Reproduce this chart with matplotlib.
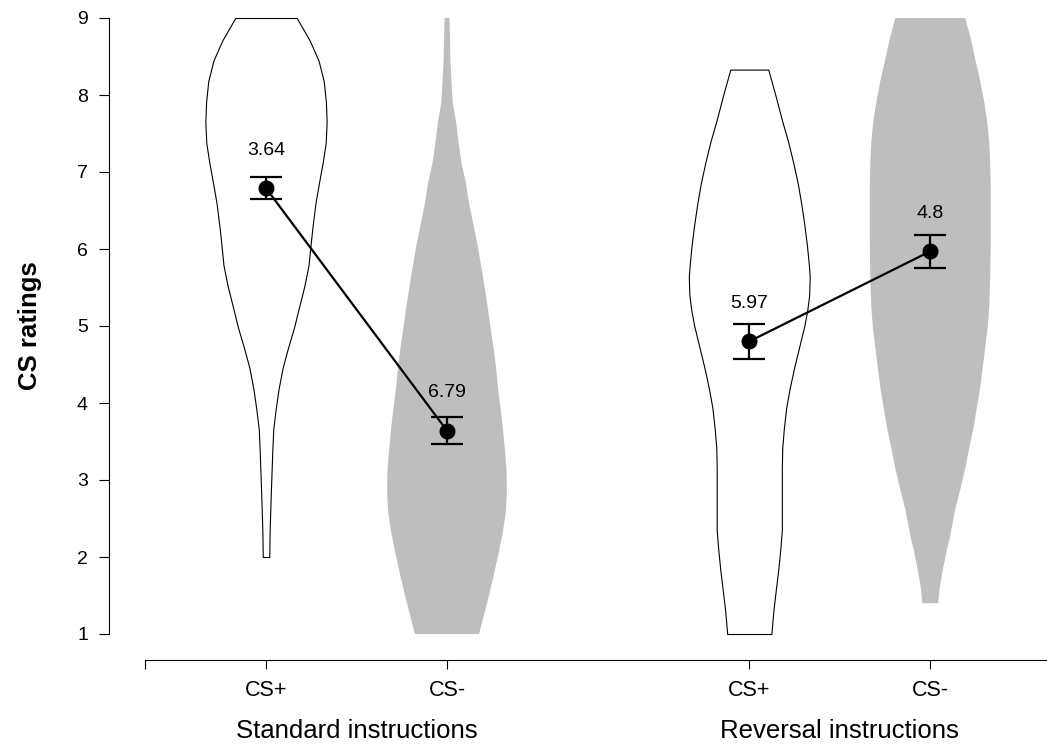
import numpy as np
import matplotlib
matplotlib.use("Agg")
import matplotlib.pyplot as plt
from matplotlib.transforms import blended_transform_factory

plt.rcParams['font.family'] = ['Liberation Sans', 'DejaVu Sans']

# group / condition layout
positions = [1, 2, 3.67, 4.67]
tick_labels = ['CS+', 'CS-', 'CS+', 'CS-']
group_names = ['Standard instructions', 'Reversal instructions']

# means, standard errors and the printed labels (as in the original figure)
means = [6.79, 3.64, 4.80, 5.97]
sems = [0.145, 0.175, 0.23, 0.217]
mean_labels = ['3.64', '6.79', '5.97', '4.8']

# violin outlines: rating level -> half width (x units)
std_plus_y = [9.0, 8.71, 8.45, 8.18, 7.91, 7.65, 7.38, 7.12, 6.85, 6.59, 6.27, 6.05, 5.79,
              5.52, 5.26, 4.99, 4.72, 4.46, 4.19, 3.93, 3.66, 3.39, 2.86, 2.33, 2.0]
std_plus_w = [0.170, 0.241, 0.290, 0.319, 0.331, 0.335, 0.330, 0.313, 0.292, 0.273, 0.256,
              0.246, 0.235, 0.212, 0.184, 0.156, 0.122, 0.092, 0.070, 0.054, 0.040, 0.035,
              0.027, 0.020, 0.018]

std_minus_y = [9.0, 8.7, 8.45, 8.18, 7.91, 7.65, 7.38, 7.12, 6.85, 6.59, 6.32, 6.05, 5.79,
               5.52, 5.26, 4.99, 4.72, 4.46, 4.19, 3.93, 3.66, 3.39, 3.13, 2.86, 2.6, 2.33,
               2.07, 1.8, 1.53, 1.27, 1.0]
std_minus_w = [0.013, 0.017, 0.019, 0.025, 0.031, 0.050, 0.064, 0.080, 0.105, 0.122, 0.146,
               0.169, 0.188, 0.207, 0.224, 0.240, 0.257, 0.271, 0.282, 0.296, 0.309, 0.320,
               0.329, 0.331, 0.326, 0.309, 0.287, 0.262, 0.235, 0.207, 0.177]

rev_plus_y = [8.33, 8.0, 7.66, 7.39, 7.12, 6.85, 6.59, 6.32, 6.06, 5.8, 5.64, 5.4, 5.2, 5.0,
              4.73, 4.47, 4.2, 3.94, 3.67, 3.41, 3.15, 2.88, 2.62, 2.35, 2.09, 1.83, 1.56,
              1.3, 1.0]
rev_plus_w = [0.105, 0.144, 0.182, 0.215, 0.243, 0.268, 0.287, 0.304, 0.318, 0.329, 0.334,
              0.331, 0.320, 0.304, 0.276, 0.249, 0.224, 0.204, 0.191, 0.182, 0.180, 0.180,
              0.180, 0.180, 0.171, 0.160, 0.146, 0.133, 0.122]

rev_minus_y = [9.0, 8.7, 8.44, 8.18, 7.91, 7.65, 7.38, 7.12, 6.85, 6.5, 6.06, 5.6, 5.26, 5.0,
               4.73, 4.46, 4.2, 3.93, 3.67, 3.41, 3.15, 2.88, 2.62, 2.35, 2.22, 2.09, 1.83,
               1.6, 1.4]
rev_minus_w = [0.193, 0.227, 0.251, 0.276, 0.298, 0.315, 0.326, 0.331, 0.334, 0.334, 0.334,
               0.331, 0.326, 0.318, 0.304, 0.290, 0.276, 0.257, 0.238, 0.215, 0.193, 0.166,
               0.138, 0.116, 0.105, 0.091, 0.069, 0.052, 0.044]

violins = [(std_plus_y, std_plus_w), (std_minus_y, std_minus_w),
           (rev_plus_y, rev_plus_w), (rev_minus_y, rev_minus_w)]
fills = ['white', '#bebebe', 'white', '#bebebe']
edges = ['black', 'none', 'black', 'none']

fig = plt.figure(figsize=(10.47, 7.44), dpi=100)
ax = fig.add_axes([109 / 1047, 84 / 744, 938 / 1047, 660 / 744])
xlo = 1 - 157 / 181
ax.set_xlim(xlo, xlo + 938 / 181)
ax.set_ylim(1 - 26 / 77, 9 + 18 / 77)

for pos, (vy, vw), fc, ec in zip(positions, violins, fills, edges):
    vy = np.array(vy)
    vw = np.array(vw)
    ax.fill_betweenx(vy, pos - vw, pos + vw, facecolor=fc, edgecolor=ec,
                     linewidth=0.8, zorder=1)

# connecting lines within each group
for i in (0, 2):
    ax.plot(positions[i:i + 2], means[i:i + 2], color='black', lw=1.6, zorder=3)

ax.errorbar(positions, means, yerr=sems, fmt='o', color='black', ms=10.5,
            elinewidth=1.6, capsize=11.5, capthick=1.6, zorder=4)

# value labels sit a fixed distance above each mean
for pos, m, lab in zip(positions, means, mean_labels):
    ax.text(pos, m + 0.49, lab, ha='center', va='center', fontsize=14, zorder=5)

# axes styling (R-like detached axes)
for s in ('top', 'right'):
    ax.spines[s].set_visible(False)
ax.spines['left'].set_bounds(1, 9)
ax.spines['bottom'].set_bounds(xlo + 36 / 181, xlo + 938 / 181)
for s in ('left', 'bottom'):
    ax.spines[s].set_linewidth(0.8)

ax.set_yticks(range(1, 10))
ax.tick_params(axis='y', length=7.2, width=0.8, pad=8, labelsize=14)
ax.set_xticks([xlo + 36 / 181] + positions)
ax.set_xticklabels([''] + tick_labels)
ax.tick_params(axis='x', length=6.5, width=0.8, pad=8, labelsize=15.5)

tr = blended_transform_factory(ax.transData, fig.transFigure)
ax.text(np.mean(positions[:2]), 0.002, group_names[0], transform=tr,
        ha='center', va='bottom', fontsize=18.5)
ax.text(np.mean(positions[2:]), 0.002, group_names[1], transform=tr,
        ha='center', va='bottom', fontsize=18.5)

fig.text(30 / 1047, (744 - 326) / 744, 'CS ratings', rotation=90, ha='center',
         va='center', fontsize=18.5, fontweight='bold')

fig.savefig('out.png', dpi=100)
